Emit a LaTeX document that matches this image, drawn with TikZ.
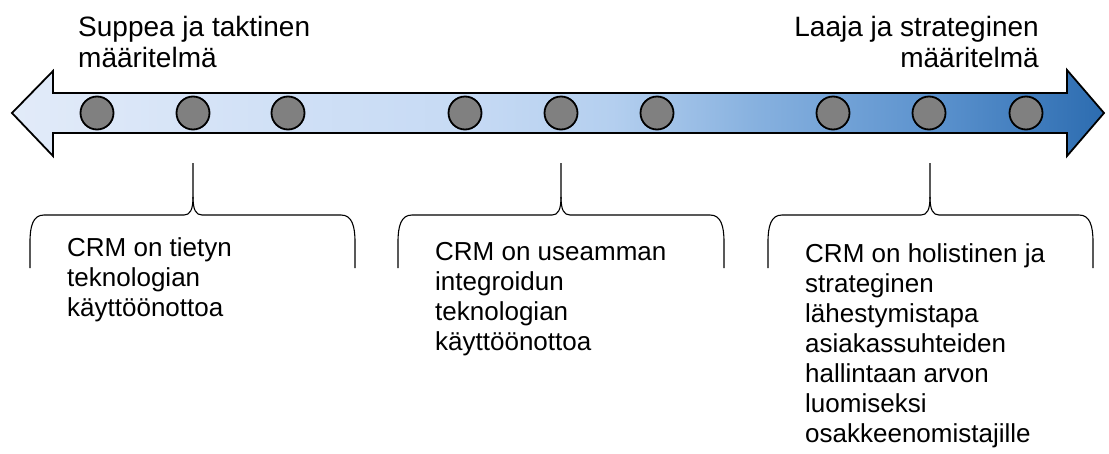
\documentclass[tikz,border=0pt]{standalone}
\usepackage{fontspec}
\setmainfont{Liberation Sans}
\usetikzlibrary{calc}

% colour stops of the scale arrow, light on the narrow side, dark on the wide side
\definecolor{axisA}{RGB}{226,235,249}
\definecolor{axisB}{RGB}{208,224,246}
\definecolor{axisC}{RGB}{198,218,244}
\definecolor{axisD}{RGB}{180,207,239}
\definecolor{axisE}{RGB}{135,177,223}
\definecolor{axisF}{RGB}{90,145,205}
\definecolor{axisG}{RGB}{44,108,176}
\definecolor{dotgray}{RGB}{128,128,128}

\pgfdeclarehorizontalshading{crmaxis}{100bp}{%
  color(0bp)=(axisA); color(25bp)=(axisA); color(37.5bp)=(axisB);
  color(46bp)=(axisC); color(52.5bp)=(axisD); color(59bp)=(axisE);
  color(67.5bp)=(axisF); color(75bp)=(axisG); color(100bp)=(axisG)}

\tikzset{
  scalearrow/.style={draw=black, line width=1.8pt, line join=miter, shading=crmaxis},
  dot/.style={circle, draw=black, line width=1.8pt, fill=dotgray,
              minimum size=33pt, inner sep=0pt},
  bracestyle/.style={draw=black, line width=1.1pt},
  headline/.style={inner sep=0pt, font=\fontsize{28}{31}\selectfont},
  bodytext/.style={inner sep=0pt, anchor=base west, font=\fontsize{26}{30}\selectfont},
}

% curly brace opening downwards: #1 stem x, #2 left end, #3 right end
\newcommand{\crmbrace}[3]{%
  \draw[bracestyle] (#2,268) -- (#2,242)
    .. controls (#2,226) and (#2+3,215) .. (#2+14,215) -- (#1-9,215)
    .. controls (#1-3,215) and (#1,210) .. (#1,197) -- (#1,163);
  \draw[bracestyle] (#3,268) -- (#3,242)
    .. controls (#3,226) and (#3-3,215) .. (#3-14,215) -- (#1+9,215)
    .. controls (#1+3,215) and (#1,210) .. (#1,197);
}

\begin{document}
\begin{tikzpicture}[x=1pt, y=-1pt]
  \useasboundingbox (0,0) rectangle (1109,453);

  % double-headed scale arrow
  \path[scalearrow] (12,113) -- (53,71) -- (53,93) -- (1067,93) -- (1067,70)
    -- (1104,113) -- (1067,156) -- (1067,133) -- (53,133) -- (53,156) -- cycle;

  % points on the scale
  \foreach \x [count=\i] in {97,193,288,465,561,657,833,929,1026}
    \node[dot] (c\i) at (\x,113) {};

  % end labels of the scale
  \node[headline, anchor=base west] (narrow) at (78,36)
    {\begin{tabular}[t]{@{}l@{}}Suppea ja taktinen\\ määritelmä\end{tabular}};
  \node[headline, anchor=base east] (broad) at (1039,36)
    {\begin{tabular}[t]{@{}r@{}}Laaja ja strateginen\\ määritelmä\end{tabular}};

  % braces under the scale
  \crmbrace{193}{30}{355}
  \crmbrace{561}{398}{724}
  \crmbrace{930}{768}{1093}

  % descriptions
  \node[bodytext] (d1) at (67,256)
    {\begin{tabular}[t]{@{}l@{}}CRM on tietyn\\ teknologian\\ käyttöönottoa\end{tabular}};
  \node[bodytext] (d2) at (435,260)
    {\begin{tabular}[t]{@{}l@{}}CRM on useamman\\ integroidun\\ teknologian\\ käyttöönottoa\end{tabular}};
  \node[bodytext] (d3) at (805,262)
    {\begin{tabular}[t]{@{}l@{}}CRM on holistinen ja\\ strateginen\\ lähestymistapa\\ asiakassuhteiden\\ hallintaan arvon\\ luomiseksi\\ osakkeenomistajille\end{tabular}};
\end{tikzpicture}
\end{document}
